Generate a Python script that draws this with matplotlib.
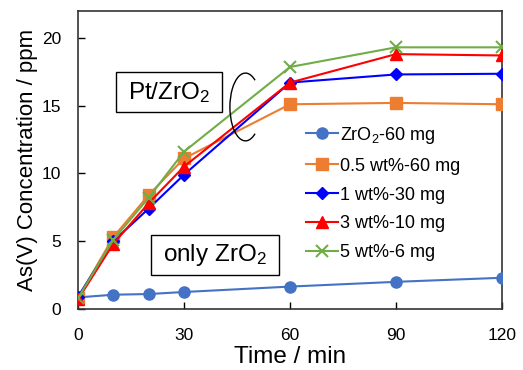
import matplotlib
matplotlib.use("Agg")
import matplotlib.pyplot as plt
from matplotlib.patches import Arc, Rectangle

plt.rcParams["font.family"] = ["Liberation Sans", "DejaVu Sans"]
plt.rcParams["mathtext.fontset"] = "custom"
plt.rcParams["mathtext.rm"] = "Liberation Sans"
plt.rcParams["mathtext.it"] = "Liberation Sans"

# Sampling times (min)
time = [0, 10, 20, 30, 60, 90, 120]

# As(V) concentration (ppm) per adsorbent
zro2_60 = [0.85, 1.05, 1.1, 1.25, 1.65, 2.0, 2.3]
pt05_60 = [0.8, 5.3, 8.4, 11.1, 15.1, 15.2, 15.1]
pt1_30 = [0.9, 5.0, 7.4, 9.9, 16.7, 17.3, 17.35]
pt3_10 = [0.7, 4.8, 7.8, 10.5, 16.7, 18.8, 18.7]
pt5_6 = [0.8, 5.1, 8.2, 11.6, 17.85, 19.3, 19.3]

labels = ["ZrO$_2$-60 mg", "0.5 wt%-60 mg", "1 wt%-30 mg", "3 wt%-10 mg", "5 wt%-6 mg"]

fig = plt.figure(figsize=(5.23, 3.70), dpi=100)
ax = fig.add_axes([0.149, 0.165, 0.811, 0.806])

ax.plot(time, zro2_60, color="#4472C4", marker="o", markersize=8, lw=1.5, label=labels[0], zorder=3)
ax.plot(time, pt05_60, color="#ED7D31", marker="s", markersize=8, lw=1.5, label=labels[1], zorder=3)
ax.plot(time, pt1_30, color="#0000FF", marker="D", markersize=6, lw=1.5, label=labels[2], zorder=4)
ax.plot(time, pt3_10, color="#FF0000", marker="^", markersize=9, lw=1.5, label=labels[3], zorder=5)
ax.plot(time, pt5_6, color="#70AD47", marker="x", markersize=9, mew=1.5, lw=1.5, label=labels[4], zorder=6)

ax.set_xlim(0, 120)
ax.set_ylim(0, 22)
ax.set_xticks([0, 30, 60, 90, 120])
ax.set_yticks([0, 5, 10, 15, 20])
ax.tick_params(direction="in", labelsize=12.5, length=5, width=1)
ax.tick_params(axis="x", pad=14)
ax.tick_params(axis="y", pad=12)
for s in ax.spines.values():
    s.set_linewidth(1.2)
    s.set_color("#333333")

ax.set_xlabel("Time / min", fontsize=17.5, labelpad=2)
ax.set_ylabel("As(V) Concentration / ppm", fontsize=16, labelpad=3)

ax.legend(loc="upper left", bbox_to_anchor=(0.585, 0.663), bbox_transform=fig.transFigure,
          frameon=False, fontsize=13, handlelength=1.75, handletextpad=0.15,
          labelspacing=0.66, borderpad=0, borderaxespad=0)

# label boxes
ax.add_patch(Rectangle((10.75, 14.5), 30.0, 2.95, fc="white", ec="black", lw=1, zorder=7))
ax.text(25.75, 15.95, "Pt/ZrO$_2$", fontsize=17.5, ha="center", va="center", zorder=8)
ax.add_patch(Rectangle((20.7, 2.5), 36.2, 2.95, fc="white", ec="black", lw=1, zorder=7))
ax.text(38.8, 3.95, "only ZrO$_2$", fontsize=17.5, ha="center", va="center", zorder=8)

ax.add_patch(Arc((47.4, 14.9), 8.8, 5.0, theta1=36, theta2=324, color="black", lw=1, zorder=7))

fig.savefig("out.png", dpi=100)
